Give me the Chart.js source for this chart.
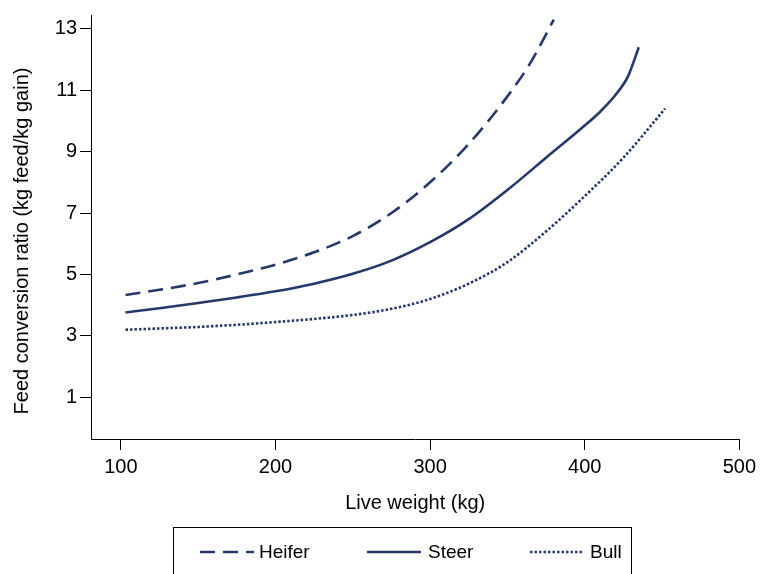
<!DOCTYPE html>
<html>
<head>
<meta charset="utf-8">
<script src="https://cdn.jsdelivr.net/npm/chart.js@4"></script>
<style>
html,body{margin:0;padding:0;background:#fff;}
#wrap{width:761px;height:574px;position:relative;}
</style>
</head>
<body>
<div id="wrap"><canvas id="c" width="761" height="574"></canvas></div>
<script>
const seriesNames = ["Heifer", "Steer", "Bull"];
const heiferWeight = [103, 125, 150, 175, 200, 225, 250, 275, 300, 325, 350, 365, 380];
const heiferFCR    = [4.33, 4.5, 4.72, 5.0, 5.32, 5.72, 6.25, 7.0, 8.0, 9.25, 10.8, 11.9, 13.3];
const steerWeight  = [103, 125, 150, 175, 200, 225, 250, 275, 300, 325, 350, 375, 400, 410, 420, 428, 435];
const steerFCR     = [3.76, 3.9, 4.07, 4.25, 4.45, 4.7, 5.02, 5.45, 6.05, 6.8, 7.75, 8.8, 9.85, 10.3, 10.85, 11.45, 12.4];
const bullWeight   = [103, 125, 150, 175, 200, 225, 250, 275, 300, 325, 350, 375, 400, 425, 452];
const bullFCR      = [3.2, 3.24, 3.29, 3.36, 3.45, 3.55, 3.68, 3.88, 4.2, 4.7, 5.4, 6.4, 7.55, 8.8, 10.4];
const xTicks = [100, 200, 300, 400, 500];
const yTicks = [1, 3, 5, 7, 9, 11, 13];
const xTitle = "Live weight (kg)";
const yTitle = "Feed conversion ratio (kg feed/kg gain)";

const NAVY = "#24386b";
const FONT = "'Liberation Sans', Arial, Helvetica, sans-serif";
const AXFS = 20;
const toPts = (xs, ys) => xs.map((x, i) => ({x: x, y: ys[i]}));

const textPlugin = {
  id: 'extraText',
  afterDraw(chart) {
    const ctx = chart.ctx;
    ctx.save();
    ctx.fillStyle = '#000';
    ctx.font = AXFS + "px " + FONT;
    ctx.textAlign = 'center';
    ctx.textBaseline = 'middle';
    ctx.translate(22, 241);
    ctx.rotate(-Math.PI / 2);
    ctx.fillText(yTitle, 0, 0);
    ctx.restore();

    ctx.save();
    ctx.strokeStyle = '#000';
    ctx.lineWidth = 1;
    ctx.setLineDash([]);
    ctx.strokeRect(173.5, 527.5, 458, 50);
    const items = [
      {sx: 200, tx: 259},
      {sx: 367, tx: 428},
      {sx: 530, tx: 590}
    ];
    ctx.font = "19px " + FONT;
    ctx.textBaseline = 'middle';
    ctx.textAlign = 'left';
    chart.data.datasets.forEach((ds, i) => {
      const it = items[i];
      ctx.strokeStyle = ds.borderColor;
      ctx.lineWidth = ds.borderWidth;
      ctx.lineCap = 'butt';
      ctx.setLineDash(ds.borderDash || []);
      ctx.beginPath();
      ctx.moveTo(it.sx, 552);
      ctx.lineTo(it.sx + 54, 552);
      ctx.stroke();
      ctx.setLineDash([]);
      ctx.fillStyle = '#000';
      ctx.fillText(ds.label, it.tx, 553);
    });
    ctx.restore();
  }
};

new Chart(document.getElementById('c'), {
  type: 'line',
  data: {
    datasets: [
      {label: seriesNames[0], data: toPts(heiferWeight, heiferFCR), borderColor: NAVY, borderWidth: 2.6, borderDash: [15, 8], borderCapStyle: 'butt'},
      {label: seriesNames[1], data: toPts(steerWeight, steerFCR), borderColor: NAVY, borderWidth: 2.6, borderDash: [], borderCapStyle: 'butt'},
      {label: seriesNames[2], data: toPts(bullWeight, bullFCR), borderColor: NAVY, borderWidth: 2.6, borderDash: [2.5, 2], borderCapStyle: 'butt'}
    ]
  },
  options: {
    responsive: false,
    animation: false,
    devicePixelRatio: 1,
    elements: {
      point: {radius: 0, hoverRadius: 0},
      line: {cubicInterpolationMode: 'monotone', fill: false}
    },
    layout: {padding: {left: 0, right: 17, top: 12, bottom: 59}},
    plugins: {legend: {display: false}, tooltip: {enabled: false}},
    scales: {
      x: {
        type: 'linear',
        min: 80.7,
        max: 500,
        afterBuildTicks: (s) => { s.ticks = xTicks.map(v => ({value: v})); },
        afterFit: (s) => { s.height = 76; },
        border: {display: true, color: '#000', width: 1},
        grid: {display: true, drawOnChartArea: false, drawTicks: true, tickLength: 11, color: '#000', lineWidth: 1},
        ticks: {color: '#000', font: {family: FONT, size: AXFS}, padding: 5, maxRotation: 0, autoSkip: false},
        title: {display: true, text: xTitle, color: '#000', font: {family: FONT, size: AXFS}, padding: {top: 0, bottom: 0}}
      },
      y: {
        type: 'linear',
        min: -0.36,
        max: 13.45,
        afterBuildTicks: (s) => { s.ticks = yTicks.map(v => ({value: v})); },
        afterFit: (s) => { s.width = 91; },
        border: {display: true, color: '#000', width: 1},
        grid: {display: true, drawOnChartArea: false, drawTicks: true, tickLength: 11, color: '#000', lineWidth: 1},
        ticks: {color: '#000', font: {family: FONT, size: AXFS}, padding: 3, autoSkip: false},
        title: {display: false}
      }
    }
  },
  plugins: [textPlugin]
});
</script>
</body>
</html>
